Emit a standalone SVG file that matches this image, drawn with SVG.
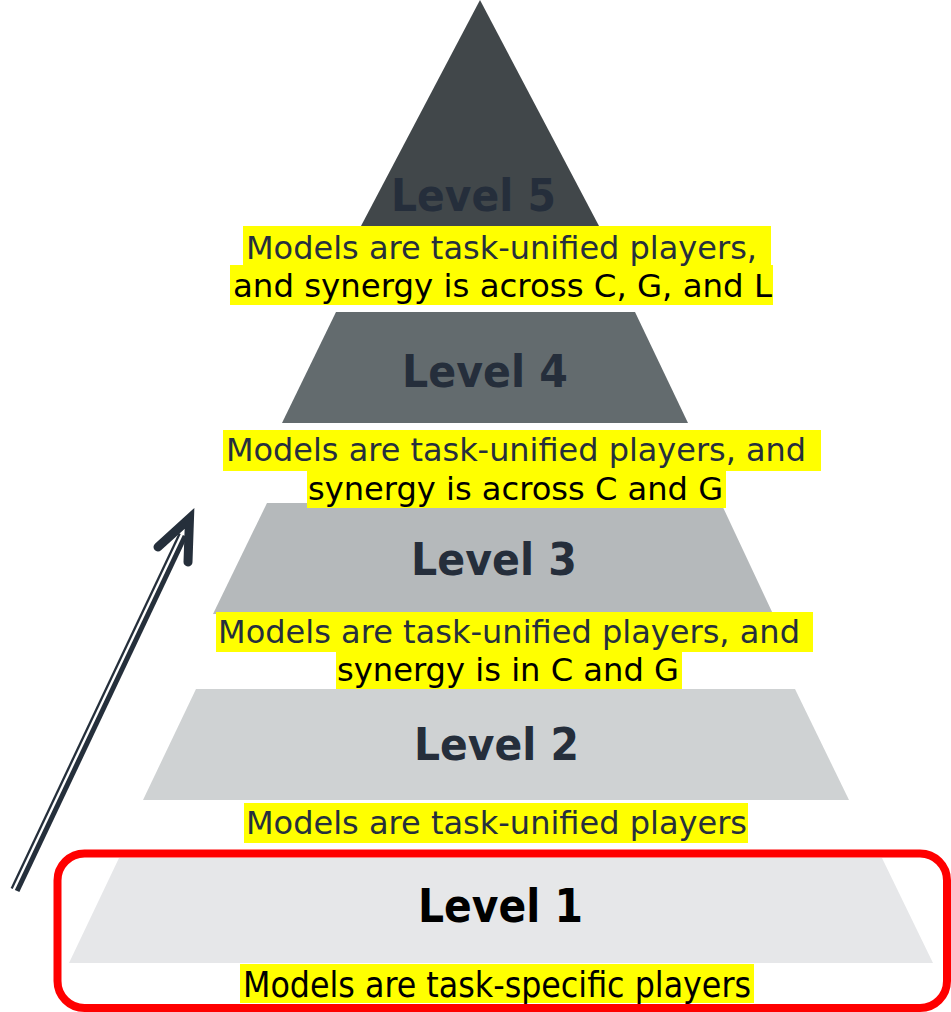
<svg xmlns="http://www.w3.org/2000/svg" width="951" height="1012" viewBox="0 0 951 1012">
<style>
.title{font-family:"DejaVu Sans","Verdana",sans-serif;font-weight:bold;font-size:44px;fill:#252e3b}
.desc{font-family:"DejaVu Sans","Verdana",sans-serif;font-size:32px}
.d1{fill:#262f3d}
.d2{fill:#000000}
.hl{fill:#ffff00}
.arr{fill:none;stroke:#252f3b}
</style>
<rect width="951" height="1012" fill="#ffffff"/>
<g id="level1">
<polygon points="119,858 882,858 933,963 69,963" fill="#e6e7e9"/>
<text class="title" x="418" y="922" style="font-size:46px;fill:#000000" textLength="165" lengthAdjust="spacingAndGlyphs">Level 1</text>
<rect class="hl" x="240" y="964" width="514" height="39"/>
<text class="desc d2" x="243" y="997" style="font-size:35px" textLength="508" lengthAdjust="spacingAndGlyphs">Models are task-specific players</text>
<rect x="57.5" y="853.5" width="889.5" height="154.5" rx="27" ry="27" fill="none" stroke="#ff0000" stroke-width="8"/>
</g>
<g id="level2">
<polygon points="196,689 795,689 849,800 143,800" fill="#cfd2d3"/>
<text class="title" x="414" y="760" textLength="165" lengthAdjust="spacingAndGlyphs">Level 2</text>
<rect class="hl" x="244" y="803" width="504" height="40"/>
<text class="desc d1" x="246" y="834" textLength="501" lengthAdjust="spacingAndGlyphs">Models are task-unified players</text>
</g>
<g id="level3">
<polygon points="267,503 721,503 773,614 213,614" fill="#b5b9bb"/>
<text class="title" x="411" y="575" textLength="166" lengthAdjust="spacingAndGlyphs">Level 3</text>
<rect class="hl" x="216" y="612" width="597" height="40"/>
<rect class="hl" x="336" y="651" width="346" height="38"/>
<text class="desc d1" x="218" y="643" textLength="582" lengthAdjust="spacingAndGlyphs">Models are task-unified players, and</text>
<text class="desc d2" x="337" y="681" textLength="342" lengthAdjust="spacingAndGlyphs">synergy is in C and G</text>
</g>
<g id="level4">
<polygon points="336,312 635,312 688,423 282,423" fill="#636b6e"/>
<text class="title" x="402" y="387" textLength="166" lengthAdjust="spacingAndGlyphs">Level 4</text>
<rect class="hl" x="223" y="430" width="598" height="41"/>
<rect class="hl" x="307" y="470" width="419" height="38"/>
<text class="desc d1" x="226" y="461" textLength="580" lengthAdjust="spacingAndGlyphs">Models are task-unified players, and</text>
<text class="desc d2" x="308" y="500" textLength="415" lengthAdjust="spacingAndGlyphs">synergy is across C and G</text>
</g>
<g id="level5">
<polygon points="480,0 599,226 361,226" fill="#41474a"/>
<text class="title" x="391" y="211" textLength="165" lengthAdjust="spacingAndGlyphs">Level 5</text>
<rect class="hl" x="243" y="226" width="528" height="40"/>
<rect class="hl" x="230" y="265" width="543" height="40"/>
<text class="desc d1" x="246" y="259" textLength="511" lengthAdjust="spacingAndGlyphs">Models are task-unified players,</text>
<text class="desc d2" x="233" y="297" textLength="539" lengthAdjust="spacingAndGlyphs">and synergy is across C, G, and L</text>
</g>
<g id="connectors">
<line class="arr" x1="11.7" y1="888.4" x2="179.7" y2="533.4" stroke-width="2.3"/>
<line class="arr" x1="17.1" y1="891" x2="185.1" y2="536" stroke-width="5"/>
<polyline class="arr" points="158,547 189.5,518.4 188,562" stroke-width="9" stroke-linecap="round" stroke-linejoin="miter" stroke-miterlimit="6"/>
</g>
</svg>
